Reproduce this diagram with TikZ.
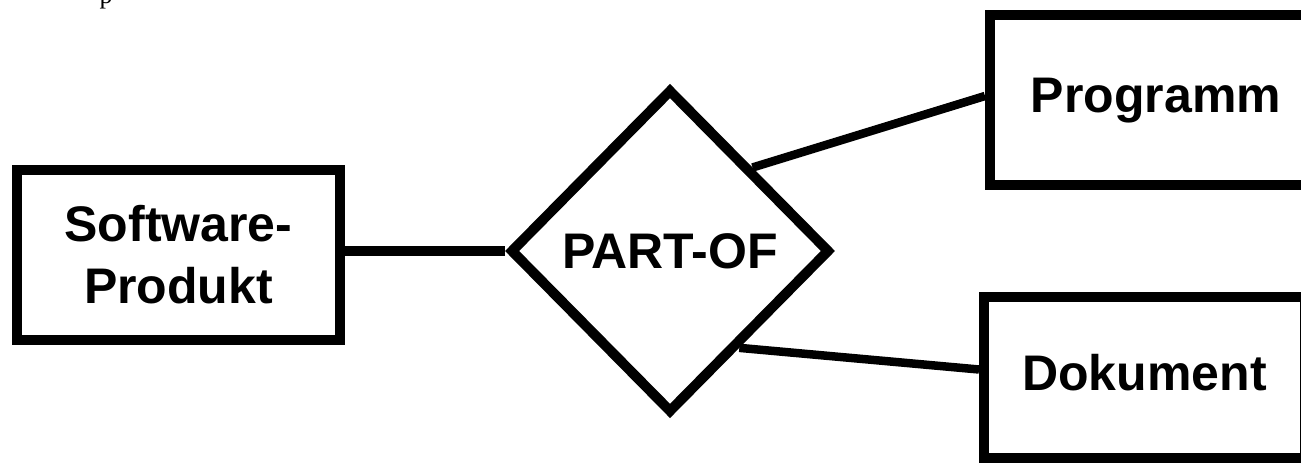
\documentclass[tikz,border=0pt]{standalone}
\usepackage{fontspec}
\setmainfont{Liberation Sans}
\newfontfamily\seriffont{Liberation Serif}
\usetikzlibrary{shapes.geometric,calc}
\begin{document}
\begin{tikzpicture}[x=1pt,y=-1pt,
  labelfont/.style={font=\fontsize{50}{62}\selectfont\bfseries},
  entity/.style={draw=black,line width=10pt,rectangle,inner sep=0pt,labelfont},
  relation/.style={draw=black,line width=10pt,diamond,inner sep=0pt,
    minimum width=320pt,minimum height=324pt,labelfont},
  link/.style={draw=black,line width=8.5pt}]
\clip (0,0) rectangle (1301,465);
\fill[white] (0,0) rectangle (1301,465);
\node[font=\seriffont\fontsize{26}{30}\selectfont,anchor=base] (frag) at (106,4) {p};
\node[entity,minimum width=323pt,minimum height=170pt,align=center] (sw) at (178.5,255) {Software-\\Produkt};
\node[relation] (d) at (670,251) {PART-OF};
\node[entity,minimum width=332pt,minimum height=170pt,text height=32pt,text depth=6pt] (prog) at (1156,100) {Programm};
\node[entity,minimum width=321pt,minimum height=161pt,text height=32pt,text depth=6pt] (dok) at (1144.5,377.5) {Dokument};
\draw[link,line width=10pt] (d.west) -- (sw.east |- d.west);
\draw[link] (d.north east) -- ([yshift=4pt]prog.west);
\draw[link] ($(d.east)!0.58!(d.south)$) -- ([yshift=8pt]dok.west);
\end{tikzpicture}
\end{document}
